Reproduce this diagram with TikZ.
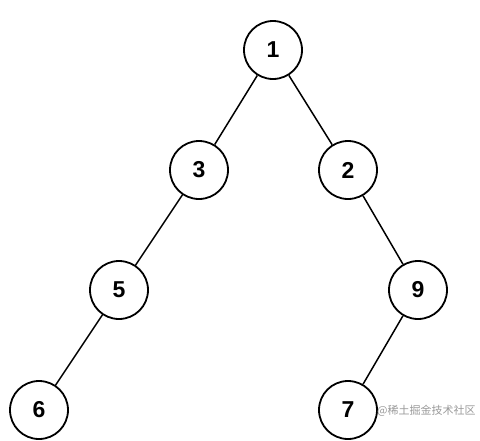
\documentclass[tikz,border=0pt]{standalone}
\usepackage{fontspec}
\setmainfont{Liberation Sans}
\newfontfamily\cjk{Noto Sans CJK SC}
\begin{document}
\begin{tikzpicture}[x=1pt,y=-1pt,
  tnode/.style={circle,draw=black,line width=1.8pt,minimum size=58pt,inner sep=0pt,fill=white,font=\fontsize{23}{23}\selectfont\bfseries},
  edge/.style={line width=1.5pt}]
\useasboundingbox (0,0) rectangle (480,440);
\node[tnode] (n1) at (273,50) {1};
\node[tnode] (n3) at (199,170) {3};
\node[tnode] (n2) at (348,170) {2};
\node[tnode] (n5) at (119,290) {5};
\node[tnode] (n9) at (418,290) {9};
\node[tnode] (n6) at (39,410) {6};
\node[tnode] (n7) at (348,410) {7};
\draw[edge] (n1) -- (n3);
\draw[edge] (n1) -- (n2);
\draw[edge] (n3) -- (n5);
\draw[edge] (n5) -- (n6);
\draw[edge] (n2) -- (n9);
\draw[edge] (n9) -- (n7);
\node[anchor=west,inner sep=0pt,text=black!40,font=\cjk\fontsize{11}{11}\selectfont] (wm) at (377,411) {@稀土掘金技术社区};
\end{tikzpicture}
\end{document}
